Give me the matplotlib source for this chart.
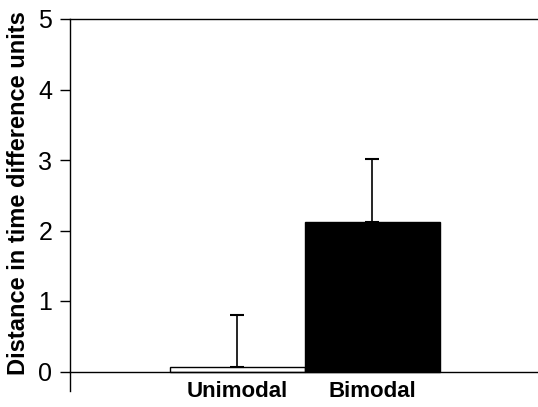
import matplotlib
matplotlib.use("Agg")
import matplotlib.pyplot as plt

categories = ["Unimodal", "Bimodal"]
values = [0.06, 2.12]
errors = [0.74, 0.89]
colors = ["white", "black"]
yticks = [0, 1, 2, 3, 4, 5]

plt.rcParams['font.family'] = ['Liberation Sans', 'DejaVu Sans']

fig = plt.figure(figsize=(5.38, 4.07), dpi=100)
W, H = 538, 407
left, right, top = 70, 538, 19
y0_px = 371.5
ppu = (y0_px - top) / 5.0
ymin = -0.27
bottom_px = y0_px + (-ymin) * ppu
ax = fig.add_axes([left / W, 1 - bottom_px / H, (right - left) / W, (bottom_px - top) / H])
ax.spines["right"].set_visible(False)
ax.spines["bottom"].set_position(("data", 0))
for s in ["left", "bottom", "top"]:
    ax.spines[s].set_linewidth(1.0)

x = list(range(len(categories)))
ax.bar(x, values, width=1.0, color=colors, edgecolor="black", linewidth=1.0, zorder=2)
ax.errorbar(x, values, yerr=[[0, 0], errors], fmt="none", ecolor="black",
            elinewidth=1.2, capsize=5, capthick=1.5, zorder=3)

ax.set_xlim(-1.24, 2.226)
ax.set_ylim(ymin, 5)
ax.set_yticks(yticks)
ax.set_yticklabels([str(t) for t in yticks], fontsize=18)
ax.set_xticks(x)
ax.set_xticklabels(categories, fontsize=16, fontweight="bold")
ax.tick_params(axis="x", length=0, pad=7)
ax.tick_params(axis="y", direction="out", length=7.2, width=1, pad=5.5)
ax.set_ylabel("Distance in time difference units", fontsize=17, fontweight="bold")
ax.yaxis.set_label_coords(-(left - 30) / (right - left), (bottom_px - 193) / (bottom_px - top))

fig.savefig("out.png", dpi=100)
